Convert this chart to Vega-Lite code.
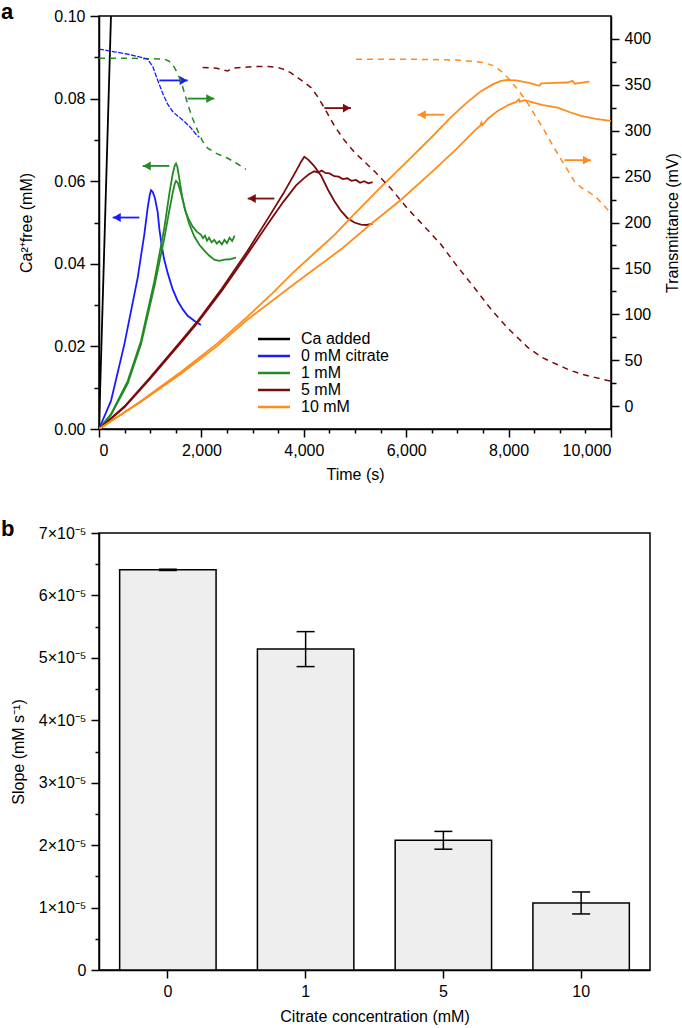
{
  "$schema": "https://vega.github.io/schema/vega-lite/v6.json",
  "padding": {"left": 0, "top": 0, "right": 0, "bottom": 0},
  "spacing": 34,
  "config": {
    "font": "Liberation Sans",
    "view": {"stroke": "black", "strokeWidth": 1.5},
    "axis": {
      "labelFont": "Liberation Sans", "titleFont": "Liberation Sans",
      "labelFontSize": 16, "titleFontSize": 16, "labelColor": "black", "titleColor": "black",
      "titleFontWeight": "normal", "domainColor": "black", "tickColor": "black",
      "domainWidth": 1.5, "tickWidth": 1.5, "grid": false
    },
    "legend": {"labelFont": "Liberation Sans", "labelColor": "black"}
  },
  "datasets": {
    "ca": [
      {"series": "Ca added", "run": "a", "t": 0, "v": 0},
      {"series": "Ca added", "run": "a", "t": 250, "v": 0.1068},
      {"series": "0 mM citrate", "run": "a", "t": 0, "v": 0},
      {"series": "0 mM citrate", "run": "a", "t": 234, "v": 0.0068},
      {"series": "0 mM citrate", "run": "a", "t": 495, "v": 0.0205},
      {"series": "0 mM citrate", "run": "a", "t": 755, "v": 0.0366},
      {"series": "0 mM citrate", "run": "a", "t": 885, "v": 0.0471},
      {"series": "0 mM citrate", "run": "a", "t": 950, "v": 0.0535},
      {"series": "0 mM citrate", "run": "a", "t": 990, "v": 0.0566},
      {"series": "0 mM citrate", "run": "a", "t": 1016, "v": 0.0578},
      {"series": "0 mM citrate", "run": "a", "t": 1050, "v": 0.0574},
      {"series": "0 mM citrate", "run": "a", "t": 1094, "v": 0.0558},
      {"series": "0 mM citrate", "run": "a", "t": 1146, "v": 0.0525},
      {"series": "0 mM citrate", "run": "a", "t": 1178, "v": 0.0485},
      {"series": "0 mM citrate", "run": "a", "t": 1220, "v": 0.0448},
      {"series": "0 mM citrate", "run": "a", "t": 1270, "v": 0.0412},
      {"series": "0 mM citrate", "run": "a", "t": 1341, "v": 0.0378},
      {"series": "0 mM citrate", "run": "a", "t": 1440, "v": 0.0338},
      {"series": "0 mM citrate", "run": "a", "t": 1537, "v": 0.0310},
      {"series": "0 mM citrate", "run": "a", "t": 1640, "v": 0.0289},
      {"series": "0 mM citrate", "run": "a", "t": 1732, "v": 0.0274},
      {"series": "0 mM citrate", "run": "a", "t": 1860, "v": 0.0262},
      {"series": "0 mM citrate", "run": "a", "t": 1990, "v": 0.0252},
      {"series": "1 mM", "run": "a", "t": 0, "v": 0},
      {"series": "1 mM", "run": "a", "t": 234, "v": 0.0036},
      {"series": "1 mM", "run": "a", "t": 560, "v": 0.0116},
      {"series": "1 mM", "run": "a", "t": 820, "v": 0.0213},
      {"series": "1 mM", "run": "a", "t": 1081, "v": 0.0358},
      {"series": "1 mM", "run": "a", "t": 1276, "v": 0.0487},
      {"series": "1 mM", "run": "a", "t": 1374, "v": 0.0570},
      {"series": "1 mM", "run": "a", "t": 1440, "v": 0.0618},
      {"series": "1 mM", "run": "a", "t": 1480, "v": 0.0638},
      {"series": "1 mM", "run": "a", "t": 1504, "v": 0.0643},
      {"series": "1 mM", "run": "a", "t": 1530, "v": 0.0635},
      {"series": "1 mM", "run": "a", "t": 1570, "v": 0.0605},
      {"series": "1 mM", "run": "a", "t": 1620, "v": 0.0565},
      {"series": "1 mM", "run": "a", "t": 1680, "v": 0.0530},
      {"series": "1 mM", "run": "a", "t": 1750, "v": 0.0508},
      {"series": "1 mM", "run": "a", "t": 1830, "v": 0.0490},
      {"series": "1 mM", "run": "a", "t": 1910, "v": 0.0478},
      {"series": "1 mM", "run": "a", "t": 1992, "v": 0.0470},
      {"series": "1 mM", "run": "a", "t": 2030, "v": 0.0462},
      {"series": "1 mM", "run": "a", "t": 2070, "v": 0.0468},
      {"series": "1 mM", "run": "a", "t": 2110, "v": 0.0456},
      {"series": "1 mM", "run": "a", "t": 2150, "v": 0.0463},
      {"series": "1 mM", "run": "a", "t": 2200, "v": 0.0452},
      {"series": "1 mM", "run": "a", "t": 2250, "v": 0.0458},
      {"series": "1 mM", "run": "a", "t": 2300, "v": 0.0449},
      {"series": "1 mM", "run": "a", "t": 2350, "v": 0.0455},
      {"series": "1 mM", "run": "a", "t": 2400, "v": 0.0447},
      {"series": "1 mM", "run": "a", "t": 2450, "v": 0.0458},
      {"series": "1 mM", "run": "a", "t": 2500, "v": 0.0450},
      {"series": "1 mM", "run": "a", "t": 2550, "v": 0.0463},
      {"series": "1 mM", "run": "a", "t": 2600, "v": 0.0455},
      {"series": "1 mM", "run": "a", "t": 2650, "v": 0.0468},
      {"series": "1 mM", "run": "b", "t": 0, "v": 0},
      {"series": "1 mM", "run": "b", "t": 234, "v": 0.0034},
      {"series": "1 mM", "run": "b", "t": 560, "v": 0.0110},
      {"series": "1 mM", "run": "b", "t": 820, "v": 0.0205},
      {"series": "1 mM", "run": "b", "t": 1081, "v": 0.0345},
      {"series": "1 mM", "run": "b", "t": 1276, "v": 0.0462},
      {"series": "1 mM", "run": "b", "t": 1374, "v": 0.0530},
      {"series": "1 mM", "run": "b", "t": 1440, "v": 0.0572},
      {"series": "1 mM", "run": "b", "t": 1480, "v": 0.0594},
      {"series": "1 mM", "run": "b", "t": 1504, "v": 0.0601},
      {"series": "1 mM", "run": "b", "t": 1540, "v": 0.0596},
      {"series": "1 mM", "run": "b", "t": 1600, "v": 0.0572},
      {"series": "1 mM", "run": "b", "t": 1680, "v": 0.0532},
      {"series": "1 mM", "run": "b", "t": 1760, "v": 0.0497},
      {"series": "1 mM", "run": "b", "t": 1862, "v": 0.0466},
      {"series": "1 mM", "run": "b", "t": 1960, "v": 0.0446},
      {"series": "1 mM", "run": "b", "t": 2057, "v": 0.0432},
      {"series": "1 mM", "run": "b", "t": 2150, "v": 0.0420},
      {"series": "1 mM", "run": "b", "t": 2252, "v": 0.0410},
      {"series": "1 mM", "run": "b", "t": 2350, "v": 0.0407},
      {"series": "1 mM", "run": "b", "t": 2450, "v": 0.0410},
      {"series": "1 mM", "run": "b", "t": 2550, "v": 0.0411},
      {"series": "1 mM", "run": "b", "t": 2676, "v": 0.0415},
      {"series": "5 mM", "run": "a", "t": 0, "v": 0},
      {"series": "5 mM", "run": "a", "t": 500, "v": 0.0055},
      {"series": "5 mM", "run": "a", "t": 1000, "v": 0.0125},
      {"series": "5 mM", "run": "a", "t": 1600, "v": 0.0213},
      {"series": "5 mM", "run": "a", "t": 1930, "v": 0.0262},
      {"series": "5 mM", "run": "a", "t": 2400, "v": 0.0340},
      {"series": "5 mM", "run": "a", "t": 2900, "v": 0.0431},
      {"series": "5 mM", "run": "a", "t": 3300, "v": 0.0510},
      {"series": "5 mM", "run": "a", "t": 3600, "v": 0.0570},
      {"series": "5 mM", "run": "a", "t": 3850, "v": 0.0625},
      {"series": "5 mM", "run": "a", "t": 3950, "v": 0.0648},
      {"series": "5 mM", "run": "a", "t": 4010, "v": 0.0659},
      {"series": "5 mM", "run": "a", "t": 4080, "v": 0.0653},
      {"series": "5 mM", "run": "a", "t": 4200, "v": 0.0637},
      {"series": "5 mM", "run": "a", "t": 4336, "v": 0.0614},
      {"series": "5 mM", "run": "a", "t": 4470, "v": 0.0580},
      {"series": "5 mM", "run": "a", "t": 4596, "v": 0.0552},
      {"series": "5 mM", "run": "a", "t": 4727, "v": 0.0528},
      {"series": "5 mM", "run": "a", "t": 4850, "v": 0.0511},
      {"series": "5 mM", "run": "a", "t": 4987, "v": 0.0500},
      {"series": "5 mM", "run": "a", "t": 5117, "v": 0.0495},
      {"series": "5 mM", "run": "a", "t": 5230, "v": 0.0494},
      {"series": "5 mM", "run": "a", "t": 5345, "v": 0.0497},
      {"series": "5 mM", "run": "b", "t": 0, "v": 0},
      {"series": "5 mM", "run": "b", "t": 500, "v": 0.0053},
      {"series": "5 mM", "run": "b", "t": 1000, "v": 0.0122},
      {"series": "5 mM", "run": "b", "t": 1600, "v": 0.0209},
      {"series": "5 mM", "run": "b", "t": 1930, "v": 0.0258},
      {"series": "5 mM", "run": "b", "t": 2400, "v": 0.0335},
      {"series": "5 mM", "run": "b", "t": 2900, "v": 0.0424},
      {"series": "5 mM", "run": "b", "t": 3300, "v": 0.0497},
      {"series": "5 mM", "run": "b", "t": 3600, "v": 0.0550},
      {"series": "5 mM", "run": "b", "t": 3850, "v": 0.0590},
      {"series": "5 mM", "run": "b", "t": 4000, "v": 0.0607},
      {"series": "5 mM", "run": "b", "t": 4100, "v": 0.0617},
      {"series": "5 mM", "run": "b", "t": 4206, "v": 0.0624},
      {"series": "5 mM", "run": "b", "t": 4280, "v": 0.0621},
      {"series": "5 mM", "run": "b", "t": 4350, "v": 0.0626},
      {"series": "5 mM", "run": "b", "t": 4420, "v": 0.0620},
      {"series": "5 mM", "run": "b", "t": 4500, "v": 0.0619},
      {"series": "5 mM", "run": "b", "t": 4596, "v": 0.0612},
      {"series": "5 mM", "run": "b", "t": 4680, "v": 0.0611},
      {"series": "5 mM", "run": "b", "t": 4760, "v": 0.0605},
      {"series": "5 mM", "run": "b", "t": 4850, "v": 0.0607},
      {"series": "5 mM", "run": "b", "t": 4930, "v": 0.0601},
      {"series": "5 mM", "run": "b", "t": 5020, "v": 0.0603},
      {"series": "5 mM", "run": "b", "t": 5100, "v": 0.0596},
      {"series": "5 mM", "run": "b", "t": 5180, "v": 0.0600},
      {"series": "5 mM", "run": "b", "t": 5260, "v": 0.0595},
      {"series": "5 mM", "run": "b", "t": 5345, "v": 0.0598},
      {"series": "10 mM", "run": "a", "t": 0, "v": 0},
      {"series": "10 mM", "run": "a", "t": 800, "v": 0.0066},
      {"series": "10 mM", "run": "a", "t": 1600, "v": 0.0138},
      {"series": "10 mM", "run": "a", "t": 2300, "v": 0.0206},
      {"series": "10 mM", "run": "a", "t": 2900, "v": 0.0272},
      {"series": "10 mM", "run": "a", "t": 3400, "v": 0.0330},
      {"series": "10 mM", "run": "a", "t": 3800, "v": 0.0380},
      {"series": "10 mM", "run": "a", "t": 4200, "v": 0.0425},
      {"series": "10 mM", "run": "a", "t": 4600, "v": 0.0470},
      {"series": "10 mM", "run": "a", "t": 5000, "v": 0.0522},
      {"series": "10 mM", "run": "a", "t": 5500, "v": 0.0585},
      {"series": "10 mM", "run": "a", "t": 6029, "v": 0.0649},
      {"series": "10 mM", "run": "a", "t": 6500, "v": 0.0707},
      {"series": "10 mM", "run": "a", "t": 6875, "v": 0.0755},
      {"series": "10 mM", "run": "a", "t": 7200, "v": 0.0792},
      {"series": "10 mM", "run": "a", "t": 7461, "v": 0.0818},
      {"series": "10 mM", "run": "a", "t": 7700, "v": 0.0835},
      {"series": "10 mM", "run": "a", "t": 7850, "v": 0.0843},
      {"series": "10 mM", "run": "a", "t": 7982, "v": 0.0845},
      {"series": "10 mM", "run": "a", "t": 8150, "v": 0.0844},
      {"series": "10 mM", "run": "a", "t": 8400, "v": 0.0838},
      {"series": "10 mM", "run": "a", "t": 8600, "v": 0.0831},
      {"series": "10 mM", "run": "a", "t": 8640, "v": 0.0837},
      {"series": "10 mM", "run": "a", "t": 8900, "v": 0.0838},
      {"series": "10 mM", "run": "a", "t": 9150, "v": 0.0839},
      {"series": "10 mM", "run": "a", "t": 9250, "v": 0.0843},
      {"series": "10 mM", "run": "a", "t": 9290, "v": 0.0836},
      {"series": "10 mM", "run": "a", "t": 9400, "v": 0.0838},
      {"series": "10 mM", "run": "a", "t": 9577, "v": 0.0841},
      {"series": "10 mM", "run": "b", "t": 0, "v": 0},
      {"series": "10 mM", "run": "b", "t": 800, "v": 0.0064},
      {"series": "10 mM", "run": "b", "t": 1600, "v": 0.0134},
      {"series": "10 mM", "run": "b", "t": 2300, "v": 0.0200},
      {"series": "10 mM", "run": "b", "t": 2900, "v": 0.0265},
      {"series": "10 mM", "run": "b", "t": 3800, "v": 0.0350},
      {"series": "10 mM", "run": "b", "t": 4727, "v": 0.0435},
      {"series": "10 mM", "run": "b", "t": 5300, "v": 0.0495},
      {"series": "10 mM", "run": "b", "t": 5900, "v": 0.0555},
      {"series": "10 mM", "run": "b", "t": 6550, "v": 0.0628},
      {"series": "10 mM", "run": "b", "t": 7000, "v": 0.0680},
      {"series": "10 mM", "run": "b", "t": 7331, "v": 0.0722},
      {"series": "10 mM", "run": "b", "t": 7450, "v": 0.0735},
      {"series": "10 mM", "run": "b", "t": 7470, "v": 0.0742},
      {"series": "10 mM", "run": "b", "t": 7490, "v": 0.0736},
      {"series": "10 mM", "run": "b", "t": 7600, "v": 0.0752},
      {"series": "10 mM", "run": "b", "t": 7787, "v": 0.0770},
      {"series": "10 mM", "run": "b", "t": 8000, "v": 0.0785},
      {"series": "10 mM", "run": "b", "t": 8150, "v": 0.0792},
      {"series": "10 mM", "run": "b", "t": 8200, "v": 0.0798},
      {"series": "10 mM", "run": "b", "t": 8220, "v": 0.0792},
      {"series": "10 mM", "run": "b", "t": 8307, "v": 0.0796},
      {"series": "10 mM", "run": "b", "t": 8400, "v": 0.0793},
      {"series": "10 mM", "run": "b", "t": 8650, "v": 0.0785},
      {"series": "10 mM", "run": "b", "t": 8958, "v": 0.0778},
      {"series": "10 mM", "run": "b", "t": 9200, "v": 0.0767},
      {"series": "10 mM", "run": "b", "t": 9414, "v": 0.0758},
      {"series": "10 mM", "run": "b", "t": 9700, "v": 0.0751},
      {"series": "10 mM", "run": "b", "t": 10000, "v": 0.0746}
    ],
    "trans": [
      {"series": "0 mM citrate", "t": 0, "mV": 389},
      {"series": "0 mM citrate", "t": 300, "mV": 386},
      {"series": "0 mM citrate", "t": 600, "mV": 383},
      {"series": "0 mM citrate", "t": 950, "mV": 378},
      {"series": "0 mM citrate", "t": 1050, "mV": 370},
      {"series": "0 mM citrate", "t": 1146, "mV": 355},
      {"series": "0 mM citrate", "t": 1250, "mV": 340},
      {"series": "0 mM citrate", "t": 1341, "mV": 329},
      {"series": "0 mM citrate", "t": 1437, "mV": 321},
      {"series": "0 mM citrate", "t": 1537, "mV": 316},
      {"series": "0 mM citrate", "t": 1650, "mV": 311},
      {"series": "0 mM citrate", "t": 1797, "mV": 303},
      {"series": "0 mM citrate", "t": 1880, "mV": 297},
      {"series": "0 mM citrate", "t": 1959, "mV": 293},
      {"series": "1 mM", "t": 0, "mV": 379},
      {"series": "1 mM", "t": 500, "mV": 379},
      {"series": "1 mM", "t": 1000, "mV": 378.5},
      {"series": "1 mM", "t": 1276, "mV": 378},
      {"series": "1 mM", "t": 1360, "mV": 376},
      {"series": "1 mM", "t": 1439, "mV": 372},
      {"series": "1 mM", "t": 1520, "mV": 364},
      {"series": "1 mM", "t": 1602, "mV": 354},
      {"series": "1 mM", "t": 1670, "mV": 341},
      {"series": "1 mM", "t": 1732, "mV": 329},
      {"series": "1 mM", "t": 1830, "mV": 313},
      {"series": "1 mM", "t": 1927, "mV": 300},
      {"series": "1 mM", "t": 2020, "mV": 289},
      {"series": "1 mM", "t": 2123, "mV": 281},
      {"series": "1 mM", "t": 2300, "mV": 275},
      {"series": "1 mM", "t": 2513, "mV": 270},
      {"series": "1 mM", "t": 2700, "mV": 264},
      {"series": "1 mM", "t": 2871, "mV": 258},
      {"series": "5 mM", "t": 2025, "mV": 369},
      {"series": "5 mM", "t": 2300, "mV": 368},
      {"series": "5 mM", "t": 2513, "mV": 365},
      {"series": "5 mM", "t": 2600, "mV": 368},
      {"series": "5 mM", "t": 2800, "mV": 369},
      {"series": "5 mM", "t": 3034, "mV": 370},
      {"series": "5 mM", "t": 3300, "mV": 370},
      {"series": "5 mM", "t": 3490, "mV": 369},
      {"series": "5 mM", "t": 3650, "mV": 366},
      {"series": "5 mM", "t": 3750, "mV": 363},
      {"series": "5 mM", "t": 3900, "mV": 357},
      {"series": "5 mM", "t": 4000, "mV": 353},
      {"series": "5 mM", "t": 4141, "mV": 347},
      {"series": "5 mM", "t": 4260, "mV": 338},
      {"series": "5 mM", "t": 4401, "mV": 325},
      {"series": "5 mM", "t": 4600, "mV": 305},
      {"series": "5 mM", "t": 4800, "mV": 289},
      {"series": "5 mM", "t": 5000, "mV": 276},
      {"series": "5 mM", "t": 5377, "mV": 256},
      {"series": "5 mM", "t": 5700, "mV": 237},
      {"series": "5 mM", "t": 6029, "mV": 215},
      {"series": "5 mM", "t": 6350, "mV": 196},
      {"series": "5 mM", "t": 6680, "mV": 176},
      {"series": "5 mM", "t": 7000, "mV": 152},
      {"series": "5 mM", "t": 7331, "mV": 129},
      {"series": "5 mM", "t": 7650, "mV": 106},
      {"series": "5 mM", "t": 7982, "mV": 85},
      {"series": "5 mM", "t": 8373, "mV": 64},
      {"series": "5 mM", "t": 8650, "mV": 53},
      {"series": "5 mM", "t": 8958, "mV": 45},
      {"series": "5 mM", "t": 9200, "mV": 39},
      {"series": "5 mM", "t": 9414, "mV": 35},
      {"series": "5 mM", "t": 9700, "mV": 31},
      {"series": "5 mM", "t": 10000, "mV": 27},
      {"series": "10 mM", "t": 5020, "mV": 378},
      {"series": "10 mM", "t": 5500, "mV": 378},
      {"series": "10 mM", "t": 6000, "mV": 378},
      {"series": "10 mM", "t": 6500, "mV": 377.5},
      {"series": "10 mM", "t": 7000, "mV": 377},
      {"series": "10 mM", "t": 7201, "mV": 376},
      {"series": "10 mM", "t": 7400, "mV": 375},
      {"series": "10 mM", "t": 7526, "mV": 374},
      {"series": "10 mM", "t": 7700, "mV": 371},
      {"series": "10 mM", "t": 7852, "mV": 365},
      {"series": "10 mM", "t": 8000, "mV": 357},
      {"series": "10 mM", "t": 8177, "mV": 345},
      {"series": "10 mM", "t": 8340, "mV": 333},
      {"series": "10 mM", "t": 8503, "mV": 318},
      {"series": "10 mM", "t": 8700, "mV": 300},
      {"series": "10 mM", "t": 8893, "mV": 281},
      {"series": "10 mM", "t": 9100, "mV": 262},
      {"series": "10 mM", "t": 9284, "mV": 245},
      {"series": "10 mM", "t": 9420, "mV": 238},
      {"series": "10 mM", "t": 9545, "mV": 234},
      {"series": "10 mM", "t": 9700, "mV": 228},
      {"series": "10 mM", "t": 9935, "mV": 214},
      {"series": "10 mM", "t": 10000, "mV": 211}
    ],
    "arrows": [
      {"series": "0 mM citrate", "dir": "right", "x1": 1178, "x2": 1732, "hx": 1650, "v": 0.0844},
      {"series": "1 mM", "dir": "right", "x1": 1732, "x2": 2252, "hx": 2170, "v": 0.0800},
      {"series": "5 mM", "dir": "right", "x1": 4401, "x2": 4922, "hx": 4840, "v": 0.0777},
      {"series": "10 mM", "dir": "right", "x1": 9089, "x2": 9609, "hx": 9527, "v": 0.0651},
      {"series": "0 mM citrate", "dir": "left", "x1": 267, "x2": 788, "hx": 349, "v": 0.0512},
      {"series": "1 mM", "dir": "left", "x1": 853, "x2": 1374, "hx": 935, "v": 0.0637},
      {"series": "5 mM", "dir": "left", "x1": 2904, "x2": 3424, "hx": 2986, "v": 0.0558},
      {"series": "10 mM", "dir": "left", "x1": 6224, "x2": 6745, "hx": 6306, "v": 0.0761}
    ],
    "slope": [
      {"conc": "0", "slope": 0.0000641, "lo": 0.0000640, "hi": 0.0000642},
      {"conc": "1", "slope": 0.0000514, "lo": 0.0000486, "hi": 0.0000542},
      {"conc": "5", "slope": 0.0000208, "lo": 0.00001935, "hi": 0.0000222},
      {"conc": "10", "slope": 0.00001074, "lo": 0.00000898, "hi": 0.0000125}
    ]
  },
  "vconcat": [
    {
      "width": 512,
      "height": 413,
      "title": {"text": "a", "anchor": "start", "frame": "group", "dx": -98, "fontSize": 22, "fontWeight": "bold", "font": "Liberation Sans", "offset": -16, "color": "black"},
      "layer": [
        {
          "layer": [
            {
              "data": {"name": "ca"},
              "mark": {"type": "line", "strokeWidth": 1.8, "clip": true},
              "encoding": {
                "x": {"field": "t", "type": "quantitative", "scale": {"domain": [0, 10000], "nice": false},
                  "axis": {"title": "Time (s)", "orient": "bottom", "values": [0, 2000, 4000, 6000, 8000, 10000], "format": ",d", "tickSize": 8, "labelPadding": 5, "titlePadding": 8}},
                "y": {"field": "v", "type": "quantitative", "scale": {"domain": [0, 0.1], "nice": false},
                  "axis": {"title": "Ca²⁺free (mM)", "orient": "left", "values": [0, 0.02, 0.04, 0.06, 0.08, 0.1], "format": ".2f",
                    "tickSize": 9, "labelPadding": 5, "titlePadding": 19}},
                "color": {"field": "series", "type": "nominal",
                  "scale": {"domain": ["Ca added", "0 mM citrate", "1 mM", "5 mM", "10 mM"], "range": ["#000000", "#1a1aff", "#238b23", "#7d0a0a", "#ff8c1a"]},
                  "legend": {"orient": "none", "legendX": 167, "legendY": 315, "title": null, "symbolType": "M-4,0L4,0", "symbolSize": 64, "symbolStrokeWidth": 2.5, "labelFontSize": 16, "labelOffset": 19, "rowPadding": 1, "padding": 0}},
                "detail": {"field": "run", "type": "nominal"},
                "order": {"field": "t", "type": "quantitative"}
              }
            },
            {
              "data": {"name": "arrows"},
              "mark": {"type": "rule", "strokeWidth": 1.8},
              "encoding": {
                "x": {"field": "x1", "type": "quantitative", "scale": {"domain": [0, 10000], "nice": false},
                  "axis": {"title": "Time (s)", "orient": "bottom", "values": [0, 2000, 4000, 6000, 8000, 10000], "format": ",d", "tickSize": 8, "labelPadding": 5, "titlePadding": 8}},
                "x2": {"field": "x2"},
                "y": {"field": "v", "type": "quantitative", "scale": {"domain": [0, 0.1], "nice": false},
                  "axis": {"orient": "left", "values": [0.01, 0.03, 0.05, 0.07, 0.09], "labels": false, "domain": false, "tickSize": 5, "title": null}},
                "color": {"field": "series", "type": "nominal",
                  "scale": {"domain": ["Ca added", "0 mM citrate", "1 mM", "5 mM", "10 mM"], "range": ["#000000", "#1a1aff", "#238b23", "#7d0a0a", "#ff8c1a"]}, "legend": null}
              }
            },
            {
              "data": {"name": "arrows"},
              "mark": {"type": "point", "filled": true, "size": 80, "opacity": 1},
              "encoding": {
                "x": {"field": "hx", "type": "quantitative", "scale": {"domain": [0, 10000], "nice": false},
                  "axis": {"title": "Time (s)", "orient": "bottom", "values": [0, 2000, 4000, 6000, 8000, 10000], "format": ",d", "tickSize": 8, "labelPadding": 5, "titlePadding": 8}},
                "y": {"field": "v", "type": "quantitative", "scale": {"domain": [0, 0.1], "nice": false}, "axis": null},
                "shape": {"field": "dir", "type": "nominal", "scale": {"domain": ["right", "left"], "range": ["triangle-right", "triangle-left"]}, "legend": null},
                "color": {"field": "series", "type": "nominal",
                  "scale": {"domain": ["Ca added", "0 mM citrate", "1 mM", "5 mM", "10 mM"], "range": ["#000000", "#1a1aff", "#238b23", "#7d0a0a", "#ff8c1a"]}, "legend": null}
              }
            }
          ],
          "resolve": {"axis": {"y": "independent"}}
        },
        {
          "layer": [
            {
              "data": {"name": "trans"},
              "transform": [{"filter": "datum.series != '0 mM citrate'"}],
              "mark": {"type": "line", "strokeWidth": 1.5, "strokeDash": [6, 5], "clip": true},
              "encoding": {
                "x": {"field": "t", "type": "quantitative", "scale": {"domain": [0, 10000], "nice": false},
                  "axis": {"orient": "bottom", "values": [500,1000,1500,2500,3000,3500,4500,5000,5500,6500,7000,7500,8500,9000,9500], "labels": false, "domain": false, "tickSize": 4, "title": null}},
                "y": {"field": "mV", "type": "quantitative", "scale": {"domain": [-25, 425], "nice": false, "zero": false},
                  "axis": {"orient": "right", "title": "Transmittance (mV)", "titleAngle": 270, "titleBaseline": "top",
                    "values": [0, 50, 100, 150, 200, 250, 300, 350, 400], "format": "d",
                    "tickSize": 8, "labelPadding": 5, "titlePadding": 14}},
                "color": {"field": "series", "type": "nominal",
                  "scale": {"domain": ["Ca added", "0 mM citrate", "1 mM", "5 mM", "10 mM"], "range": ["#000000", "#1a1aff", "#238b23", "#7d0a0a", "#ff8c1a"]}, "legend": null},
                "order": {"field": "t", "type": "quantitative"}
              }
            },
            {
              "data": {"name": "trans"},
              "transform": [{"filter": "datum.series == '0 mM citrate'"}],
              "mark": {"type": "line", "strokeWidth": 1.3, "strokeDash": [5, 1.5], "clip": true},
              "encoding": {
                "x": {"field": "t", "type": "quantitative", "scale": {"domain": [0, 10000], "nice": false},
                  "axis": {"orient": "bottom", "values": [500,1000,1500,2500,3000,3500,4500,5000,5500,6500,7000,7500,8500,9000,9500], "labels": false, "domain": false, "tickSize": 4, "title": null}},
                "y": {"field": "mV", "type": "quantitative", "scale": {"domain": [-25, 425], "nice": false, "zero": false},
                  "axis": {"orient": "right", "values": [25, 75, 125, 175, 225, 275, 325, 375], "labels": false, "domain": false, "tickSize": 5, "title": null}},
                "color": {"field": "series", "type": "nominal",
                  "scale": {"domain": ["Ca added", "0 mM citrate", "1 mM", "5 mM", "10 mM"], "range": ["#000000", "#1a1aff", "#238b23", "#7d0a0a", "#ff8c1a"]}, "legend": null},
                "order": {"field": "t", "type": "quantitative"}
              }
            }
          ],
          "resolve": {"axis": {"y": "independent"}}
        }
      ],
      "resolve": {"scale": {"y": "independent"}, "axis": {"x": "independent"}}
    },
    {
      "width": 551,
      "height": 437,
      "title": {"text": "b", "anchor": "start", "frame": "group", "dx": -98, "fontSize": 22, "fontWeight": "bold", "font": "Liberation Sans", "offset": -16, "color": "black"},
      "data": {"name": "slope"},
      "layer": [
        {
          "mark": {"type": "bar", "fill": "#eeeeee", "stroke": "black", "strokeWidth": 1.5},
          "encoding": {
            "x": {"field": "conc", "type": "nominal", "sort": ["0", "1", "5", "10"], "scale": {"paddingInner": 0.3, "paddingOuter": 0.15},
              "axis": {"title": "Citrate concentration (mM)", "labelAngle": 0, "ticks": true, "tickSize": 8, "labelPadding": 5, "titlePadding": 9}},
            "y": {"field": "slope", "type": "quantitative", "scale": {"domain": [0, 0.00007], "nice": false},
              "axis": {"title": "Slope (mM s⁻¹)", "orient": "left",
                "values": [0, 0.00001, 0.00002, 0.00003, 0.00004, 0.00005, 0.00006, 0.00007],
                "labelExpr": "datum.value == 0 ? '0' : round(datum.value*100000) + '×10⁻⁵'",
                "tickSize": 8, "labelPadding": 5, "titlePadding": 12}}
          }
        },
        {
          "mark": {"type": "rule", "stroke": "black", "strokeWidth": 1.5},
          "encoding": {
            "x": {"field": "conc", "type": "nominal", "sort": ["0", "1", "5", "10"]},
            "y": {"field": "lo", "type": "quantitative",
              "axis": {"orient": "left", "values": [0.000005, 0.000015, 0.000025, 0.000035, 0.000045, 0.000055, 0.000065], "labels": false, "domain": false, "tickSize": 4, "title": null}},
            "y2": {"field": "hi"}
          }
        },
        {
          "mark": {"type": "tick", "color": "black", "thickness": 1.5, "size": 18, "opacity": 1},
          "encoding": {
            "x": {"field": "conc", "type": "nominal", "sort": ["0", "1", "5", "10"]},
            "y": {"field": "hi", "type": "quantitative", "axis": null}
          }
        },
        {
          "mark": {"type": "tick", "color": "black", "thickness": 1.5, "size": 18, "opacity": 1},
          "encoding": {
            "x": {"field": "conc", "type": "nominal", "sort": ["0", "1", "5", "10"]},
            "y": {"field": "lo", "type": "quantitative", "axis": null}
          }
        }
      ],
      "resolve": {"axis": {"y": "independent"}}
    }
  ]
}
